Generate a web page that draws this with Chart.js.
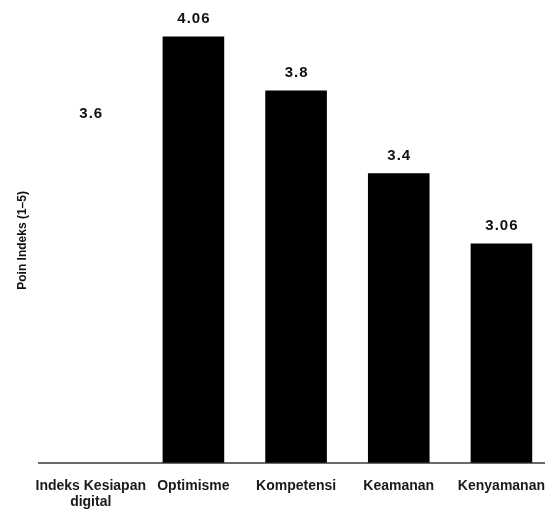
<!DOCTYPE html>
<html>
<head>
<meta charset="utf-8">
<script src="https://cdn.jsdelivr.net/npm/chart.js@4/dist/chart.umd.min.js"></script>
<style>
  html, body { margin: 0; padding: 0; background: #fff; overflow: hidden; }
  #wrap { width: 545px; height: 512px; overflow: hidden; position: relative; }
  #c { display: block; }
</style>
</head>
<body>
<div id="wrap"><canvas id="c" width="560" height="525"></canvas></div>
<script>
const categories = [["Indeks Kesiapan", "digital"], "Optimisme", "Kompetensi", "Keamanan", "Kenyamanan"];
const values = [3.6, 4.06, 3.8, 3.4, 3.06];
const valueLabels = ["3.6", "4.06", "3.8", "3.4", "3.06"];
const barColors = ["rgba(0,0,0,0)", "#000000", "#000000", "#000000", "#000000"];
const yTitle = "Poin Indeks (1–5)";

const valueLabelPlugin = {
  id: 'valueLabels',
  afterDatasetsDraw(chart) {
    const ctx = chart.ctx;
    const meta = chart.getDatasetMeta(0);
    ctx.save();
    ctx.font = 'bold 15px "Liberation Sans", Arial, sans-serif';
    try { ctx.letterSpacing = '1px'; } catch (e) {}
    ctx.fillStyle = '#111';
    ctx.textAlign = 'center';
    ctx.textBaseline = 'alphabetic';
    meta.data.forEach((bar, i) => {
      ctx.fillText(valueLabels[i], bar.x + 0.5, bar.y - 13.4);
    });
    ctx.restore();
  }
};

new Chart(document.getElementById('c'), {
  type: 'bar',
  data: {
    labels: categories,
    datasets: [{
      data: values,
      backgroundColor: barColors,
      borderWidth: 0,
      categoryPercentage: 0.8,
      barPercentage: 0.75
    }]
  },
  plugins: [valueLabelPlugin],
  options: {
    responsive: false,
    maintainAspectRatio: false,
    animation: false,
    devicePixelRatio: 1,
    layout: { padding: { left: 7, right: 0, top: 18, bottom: 0 } },
    plugins: {
      legend: { display: false },
      tooltip: { enabled: false }
    },
    scales: {
      x: {
        grid: { display: false, drawTicks: false },
        border: { display: true, color: '#6b6b6b', width: 2 },
        ticks: {
          color: '#1a1a1a',
          padding: 15,
          maxRotation: 0,
          autoSkip: false,
          font: { family: '"Liberation Sans", Arial, sans-serif', size: 14, weight: 'bold', lineHeight: 1.15 }
        }
      },
      y: {
        min: 2,
        max: 4.15,
        grid: { display: false, drawTicks: false },
        border: { display: false },
        ticks: { display: false },
        title: {
          display: true,
          text: yTitle,
          color: '#111',
          padding: { top: 8, bottom: 10 },
          font: { family: '"Liberation Sans", Arial, sans-serif', size: 12, weight: 'bold' }
        }
      }
    }
  }
});
</script>
</body>
</html>
